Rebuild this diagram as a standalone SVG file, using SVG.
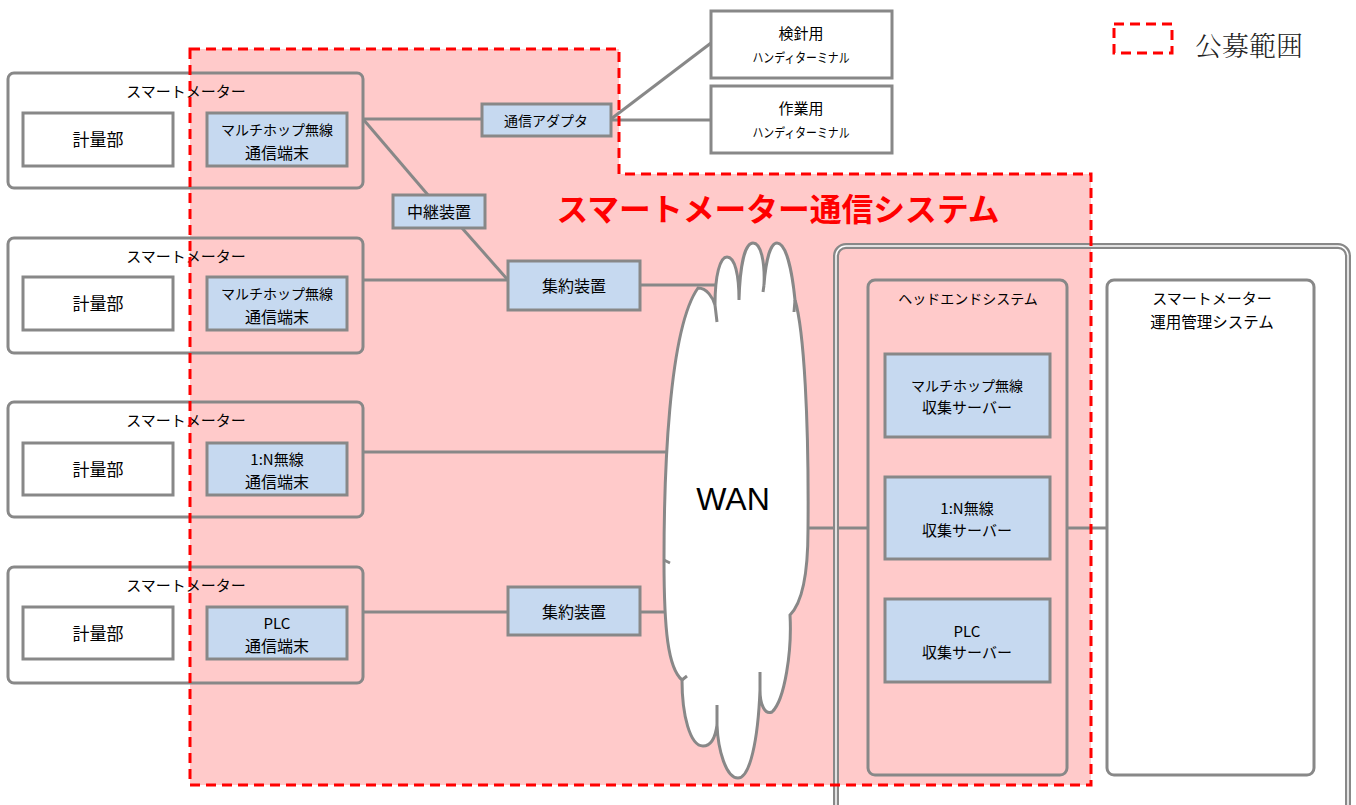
<svg xmlns="http://www.w3.org/2000/svg" width="1356" height="805" viewBox="0 0 1356 805">
<style>
text{font-family:"Noto Sans CJK JP","Noto Sans",sans-serif;fill:#000;text-anchor:middle}
.box{fill:none;stroke:#888;stroke-width:3}
.wbox{fill:#fff;stroke:#888;stroke-width:3}
.bbox{fill:#c6d9f0;stroke:#888;stroke-width:3}
.ln{stroke:#888;stroke-width:3;fill:none}
.red{fill:none;stroke:#ff0000;stroke-width:3;stroke-dasharray:10,6}
</style>
<rect width="1356" height="805" fill="#fff"/>
<path d="M190,49 H619 V174 H1091 V785 H190 Z" fill="#ffcaca"/>

<g id="connectors">
<line class="ln" x1="363" y1="119" x2="482" y2="119"/>
<line class="ln" x1="363" y1="119" x2="428" y2="195"/>
<line class="ln" x1="462" y1="228" x2="507" y2="279"/>
<line class="ln" x1="363" y1="280" x2="508" y2="280"/>
<line class="ln" x1="640" y1="285" x2="715" y2="285"/>
<line class="ln" x1="611" y1="119" x2="711" y2="43"/>
<line class="ln" x1="611" y1="120" x2="711" y2="120"/>
<line class="ln" x1="363" y1="452" x2="666" y2="452"/>
<line class="ln" x1="363" y1="612" x2="508" y2="612"/>
<line class="ln" x1="640" y1="612" x2="666" y2="612"/>
<line class="ln" x1="800" y1="528" x2="868" y2="528"/>
<line class="ln" x1="1067" y1="528" x2="1106" y2="528"/>
</g>

<g id="meter1">
<rect class="box" x="8" y="73" width="355" height="115" rx="6"/>
<text x="186" y="97" font-size="15">スマートメーター</text>
<rect class="wbox" x="23" y="113" width="150" height="53"/>
<text x="98" y="146" font-size="17">計量部</text>
<rect class="bbox" x="207" y="113" width="140" height="53"/>
<text x="277" y="135" font-size="14">マルチホップ無線</text>
<text x="277" y="159" font-size="16">通信端末</text>
</g>
<g id="meter2">
<rect class="box" x="8" y="238" width="355" height="115" rx="6"/>
<text x="186" y="262" font-size="15">スマートメーター</text>
<rect class="wbox" x="23" y="277" width="150" height="53"/>
<text x="98" y="310" font-size="17">計量部</text>
<rect class="bbox" x="207" y="277" width="140" height="53"/>
<text x="277" y="299" font-size="14">マルチホップ無線</text>
<text x="277" y="323" font-size="16">通信端末</text>
</g>
<g id="meter3">
<rect class="box" x="8" y="402" width="355" height="115" rx="6"/>
<text x="186" y="426" font-size="15">スマートメーター</text>
<rect class="wbox" x="23" y="443" width="150" height="52"/>
<text x="98" y="476" font-size="17">計量部</text>
<rect class="bbox" x="207" y="443" width="140" height="52"/>
<text x="277" y="465" font-size="15">1:N無線</text>
<text x="277" y="488" font-size="16">通信端末</text>
</g>
<g id="meter4">
<rect class="box" x="8" y="567" width="355" height="116" rx="6"/>
<text x="186" y="591" font-size="15">スマートメーター</text>
<rect class="wbox" x="23" y="607" width="150" height="52"/>
<text x="98" y="640" font-size="17">計量部</text>
<rect class="bbox" x="207" y="607" width="140" height="52"/>
<text x="277" y="629" font-size="15">PLC</text>
<text x="277" y="652" font-size="16">通信端末</text>
</g>

<g id="adapter">
<rect class="bbox" x="482" y="104" width="129" height="32"/>
<text x="546" y="126" font-size="14">通信アダプタ</text>
</g>
<g id="terminal1">
<rect class="wbox" x="711" y="11" width="181" height="67"/>
<text x="801" y="39" font-size="15">検針用</text>
<text x="801" y="62" font-size="13" textLength="97" lengthAdjust="spacingAndGlyphs">ハンディターミナル</text>
</g>
<g id="terminal2">
<rect class="wbox" x="711" y="86" width="181" height="67"/>
<text x="801" y="114" font-size="15">作業用</text>
<text x="801" y="137" font-size="13" textLength="97" lengthAdjust="spacingAndGlyphs">ハンディターミナル</text>
</g>
<g id="relay">
<rect class="bbox" x="393" y="195" width="92" height="33"/>
<text x="439" y="218" font-size="16">中継装置</text>
</g>
<g id="concentrator1">
<rect class="bbox" x="508" y="261" width="132" height="49"/>
<text x="574" y="292" font-size="16">集約装置</text>
</g>
<g id="concentrator2">
<rect class="bbox" x="508" y="587" width="132" height="48"/>
<text x="574" y="618" font-size="16">集約装置</text>
</g>

<g id="center">
<rect x="836" y="246" width="512" height="600" rx="10" fill="none" stroke="#888" stroke-width="6"/>
<rect x="836" y="246" width="512" height="600" rx="10" fill="none" stroke="#fff" stroke-width="1.5"/>
</g>
<g id="headend">
<rect class="box" x="868" y="280" width="199" height="495" rx="7"/>
<text x="968" y="304" font-size="14">ヘッドエンドシステム</text>
</g>
<g id="server1">
<rect class="bbox" x="885" y="354" width="165" height="83"/>
<text x="967" y="391" font-size="14">マルチホップ無線</text>
<text x="967" y="413" font-size="15">収集サーバー</text>
</g>
<g id="server2">
<rect class="bbox" x="885" y="477" width="165" height="82"/>
<text x="967" y="514" font-size="15">1:N無線</text>
<text x="967" y="536" font-size="15">収集サーバー</text>
</g>
<g id="server3">
<rect class="bbox" x="885" y="599" width="165" height="83"/>
<text x="967" y="637" font-size="15">PLC</text>
<text x="967" y="658" font-size="15">収集サーバー</text>
</g>
<g id="mgmt">
<rect class="wbox" x="1107" y="280" width="207" height="495" rx="7"/>
<text x="1212" y="304" font-size="15">スマートメーター</text>
<text x="1212" y="328" font-size="15.5">運用管理システム</text>
</g>

<g id="wan">
<path d="M698,288 C707,288 713,298 715,305 C715,275 720,257 727,257 C735,257 739,275 739,300 C740,265 745,243 753,243 C761,243 765,262 764,285 C766,258 771,243 777,243 C786,243 792,270 795,300 C804,330 809,420 808,530 C808,580 800,605 790,615 C792,650 785,700 772,712 C765,715 760,705 760,690 C758,740 750,778 738,778 C726,778 718,750 717,725 C715,740 710,746 703,746 C690,746 682,715 682,680 C668,668 664,630 664,560 C664,480 668,330 698,288 Z" fill="#fff" stroke="#888" stroke-width="3"/>
<path class="ln" d="M715,305 L717,322 M764,285 L763,292 M795,300 L794,312 M760,690 L760,672 M717,725 L717,705 M682,680 L687,676 M664,560 L670,563"/>
<text x="733" y="510" font-size="32" style="font-family:'Liberation Sans','Noto Sans',sans-serif">WAN</text>
</g>

<path class="red" d="M190,49 H619 V174 H1091 V785 H190 Z"/>
<text x="778" y="221" font-size="31.5" font-weight="bold" style="fill:#ff0000" textLength="443" lengthAdjust="spacingAndGlyphs">スマートメーター通信システム</text>

<g id="legend">
<rect class="red" x="1114" y="24" width="58" height="29"/>
<text x="1249" y="56" font-size="27" style="font-family:'Noto Serif CJK JP','Noto Sans CJK JP',serif;font-weight:300;fill:#222">公募範囲</text>
</g>
</svg>
